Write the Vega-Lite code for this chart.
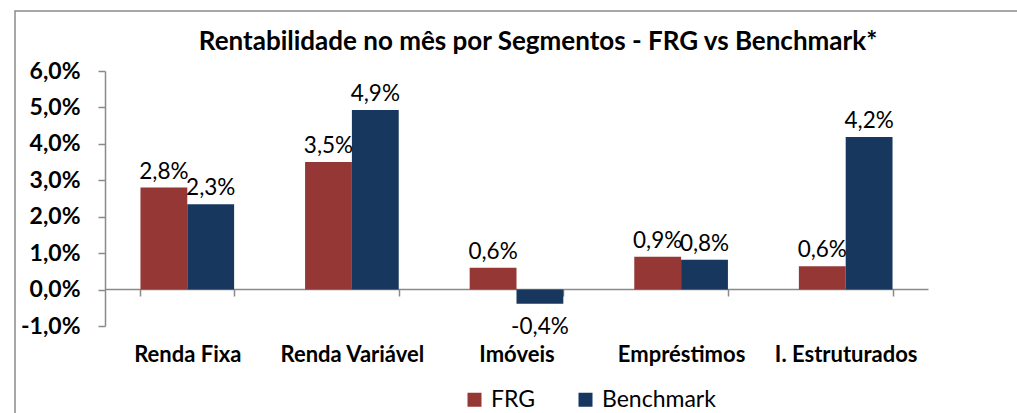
{
  "$schema": "https://vega.github.io/schema/vega-lite/v6.json",
  "width": 1012,
  "height": 412,
  "autosize": {"type": "none"},
  "padding": {"left": 15, "top": 11, "right": 0, "bottom": 0},
  "background": "white",
  "config": {
    "view": {"stroke": "#8a8a8a", "strokeWidth": 1.5, "fill": "white"},
    "font": "Lato",
    "locale": {"number": {"decimal": ",", "thousands": ".", "grouping": [3], "currency": ["R$", ""], "minus": "-"}}
  },
  "title": {
    "text": "Rentabilidade no mês por Segmentos - FRG vs Benchmark*",
    "font": "Lato",
    "fontSize": 26,
    "fontWeight": "bold",
    "color": "#000000",
    "anchor": "middle",
    "frame": "group",
    "baseline": "alphabetic",
    "offset": -65,
    "dx": 17
  },
  "data": {
    "values": [
      {"segmento": "Renda Fixa", "serie": "FRG", "valor": 0.028},
      {"segmento": "Renda Fixa", "serie": "Benchmark", "valor": 0.0234},
      {"segmento": "Renda Variável", "serie": "FRG", "valor": 0.035},
      {"segmento": "Renda Variável", "serie": "Benchmark", "valor": 0.0493},
      {"segmento": "Imóveis", "serie": "FRG", "valor": 0.006},
      {"segmento": "Imóveis", "serie": "Benchmark", "valor": -0.0039},
      {"segmento": "Empréstimos", "serie": "FRG", "valor": 0.009},
      {"segmento": "Empréstimos", "serie": "Benchmark", "valor": 0.0082},
      {"segmento": "I. Estruturados", "serie": "FRG", "valor": 0.0064},
      {"segmento": "I. Estruturados", "serie": "Benchmark", "valor": 0.0419}
    ]
  },
  "encoding": {
    "x": {
      "field": "segmento",
      "type": "nominal",
      "sort": ["Renda Fixa", "Renda Variável", "Imóveis", "Empréstimos", "I. Estruturados"],
      "scale": {"range": [90, 913], "paddingInner": 0.431, "paddingOuter": 0.2155},
      "axis": {
        "title": null,
        "orient": "bottom",
        "offset": -134,
        "labelAngle": 0,
        "labelFont": "Lato",
        "labelFontSize": 22,
        "labelFontWeight": "bold",
        "labelColor": "#000000",
        "labelPadding": 48,
        "labelLimit": 400,
        "tickBand": "extent",
        "tickSize": 7,
        "tickColor": "#8a8a8a",
        "tickWidth": 1.5,
        "domainColor": "#8a8a8a",
        "domainWidth": 1.5,
        "grid": false
      }
    },
    "xOffset": {"field": "serie", "type": "nominal", "sort": ["FRG", "Benchmark"], "scale": {"paddingInner": 0, "paddingOuter": 0}},
    "y": {
      "field": "valor",
      "type": "quantitative",
      "scale": {"domain": [-0.01, 0.06], "range": [315, 60], "nice": false, "zero": false},
      "axis": {
        "title": null,
        "orient": "left",
        "offset": -90,
        "values": [-0.01, 0, 0.01, 0.02, 0.03, 0.04, 0.05, 0.06],
        "format": ".1%",
        "labelFont": "Lato",
        "labelFontSize": 23,
        "labelFontWeight": "bold",
        "labelColor": "#000000",
        "labelPadding": 18,
        "tickSize": 7,
        "tickColor": "#8a8a8a",
        "tickWidth": 1.5,
        "domainColor": "#8a8a8a",
        "domainWidth": 1.5,
        "grid": false
      }
    }
  },
  "layer": [
    {
      "mark": {"type": "bar"},
      "encoding": {
        "color": {
          "field": "serie",
          "type": "nominal",
          "scale": {"domain": ["FRG", "Benchmark"], "range": ["#953735", "#17375e"]},
          "legend": {
            "title": null,
            "orient": "none",
            "legendX": 448,
            "legendY": 377,
            "direction": "horizontal",
            "symbolType": "square",
            "symbolSize": 196,
            "symbolStrokeWidth": 0,
            "symbolOpacity": 1,
            "labelFont": "Lato",
            "labelFontSize": 23,
            "labelColor": "#000000",
            "labelOffset": 5,
            "columnPadding": 38
          }
        }
      }
    },
    {
      "transform": [{"filter": "datum.valor >= 0"}],
      "mark": {"type": "text", "baseline": "alphabetic", "dy": -9, "font": "Lato", "fontSize": 22.5, "color": "#000000"},
      "encoding": {"text": {"field": "valor", "type": "quantitative", "format": ".1%"}}
    },
    {
      "transform": [{"filter": "datum.valor < 0"}],
      "mark": {"type": "text", "baseline": "alphabetic", "dy": 30, "font": "Lato", "fontSize": 22.5, "color": "#000000"},
      "encoding": {"text": {"field": "valor", "type": "quantitative", "format": ".1%"}}
    }
  ]
}
